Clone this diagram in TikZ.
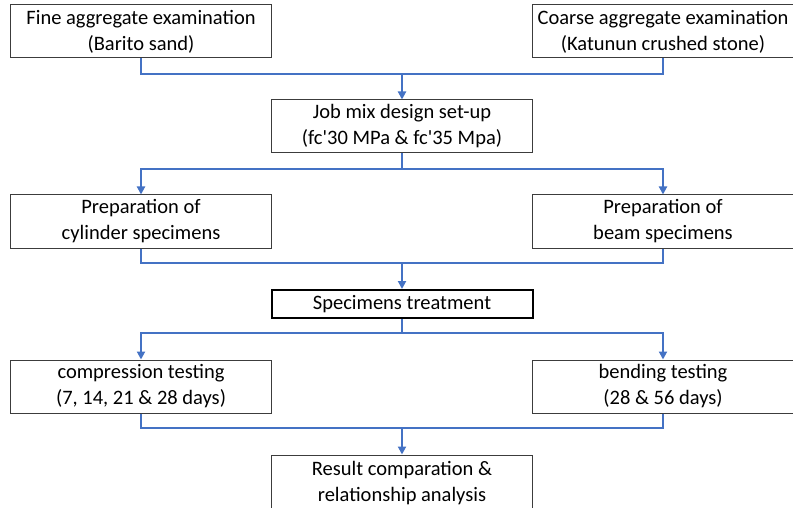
\documentclass[tikz,border=0pt]{standalone}
\usepackage{fontspec}
\setmainfont{Carlito}
\usetikzlibrary{arrows.meta,positioning,calc}
\definecolor{flowcolor}{RGB}{68,114,196}
\definecolor{boxcolor}{RGB}{60,60,60}

\begin{document}
\begin{tikzpicture}[x=1pt,y=-1pt,
    stagebox/.style={draw=boxcolor,line width=1pt,align=center,inner sep=0pt,
        minimum width=261pt,minimum height=53pt,
        font=\fontsize{20.5}{26}\selectfont},
    keybox/.style={stagebox,draw=black,line width=2pt,minimum height=28pt},
    flow/.style={flowcolor,line width=2pt},
    flowarrow/.style={flow,-{Triangle[width=8pt,length=8pt]}}]
    % Fix picture size
    \useasboundingbox (0,0) rectangle (793,508);

    % Draw material examination boxes
    \node[stagebox] (fine) at (141,31.5) {Fine aggregate examination\\(Barito sand)};
    \node[stagebox] (coarse) at (663,31.5) {Coarse aggregate examination\\(Katunun crushed stone)};

    % Draw job mix design box
    \node[stagebox] (jobmix) at (402,126.5) {Job mix design set-up\\(fc\textquotesingle30 MPa \& fc\textquotesingle35 Mpa)};

    % Draw specimen preparation boxes
    \node[stagebox] (cylinder) at (141,221.5) {Preparation of\\cylinder specimens};
    \node[stagebox] (beam) at (663,221.5) {Preparation of\\beam specimens};

    % Draw treatment box
    \node[keybox] (treatment) at (402,304) {Specimens treatment};

    % Draw testing boxes
    \node[stagebox] (compression) at (141,386.5) {compression testing\\(7, 14, 21 \& 28 days)};
    \node[stagebox] (bending) at (663,386.5) {bending testing\\(28 \& 56 days)};

    % Draw result box (runs off the bottom edge)
    \node[stagebox,minimum height=56pt] (result) at (402,483) {Result comparation \&\\relationship analysis};

    % Junction points of the connectors
    \coordinate (joinA) at (jobmix.north |- 0,74);
    \coordinate (joinB) at (jobmix.south |- 0,169);
    \coordinate (joinC) at (treatment.north |- 0,263);
    \coordinate (joinD) at (treatment.south |- 0,333);
    \coordinate (joinE) at (result.north |- 0,428);

    % Examination to job mix design
    \draw[flow] (fine.south) |- (joinA);
    \draw[flow] (coarse.south) |- (joinA);
    \draw[flowarrow] (joinA) -- (jobmix.north);

    % Job mix design to preparation
    \draw[flow] (jobmix.south) -- (joinB);
    \draw[flowarrow] (joinB) -| (cylinder.north);
    \draw[flowarrow] (joinB) -| (beam.north);

    % Preparation to treatment
    \draw[flow] (cylinder.south) |- (joinC);
    \draw[flow] (beam.south) |- (joinC);
    \draw[flowarrow] (joinC) -- (treatment.north);

    % Treatment to testing
    \draw[flow] (treatment.south) -- (joinD);
    \draw[flowarrow] (joinD) -| (compression.north);
    \draw[flowarrow] (joinD) -| (bending.north);

    % Testing to result
    \draw[flow] (compression.south) |- (joinE);
    \draw[flow] (bending.south) |- (joinE);
    \draw[flowarrow] (joinE) -- (result.north);
\end{tikzpicture}
\end{document}
